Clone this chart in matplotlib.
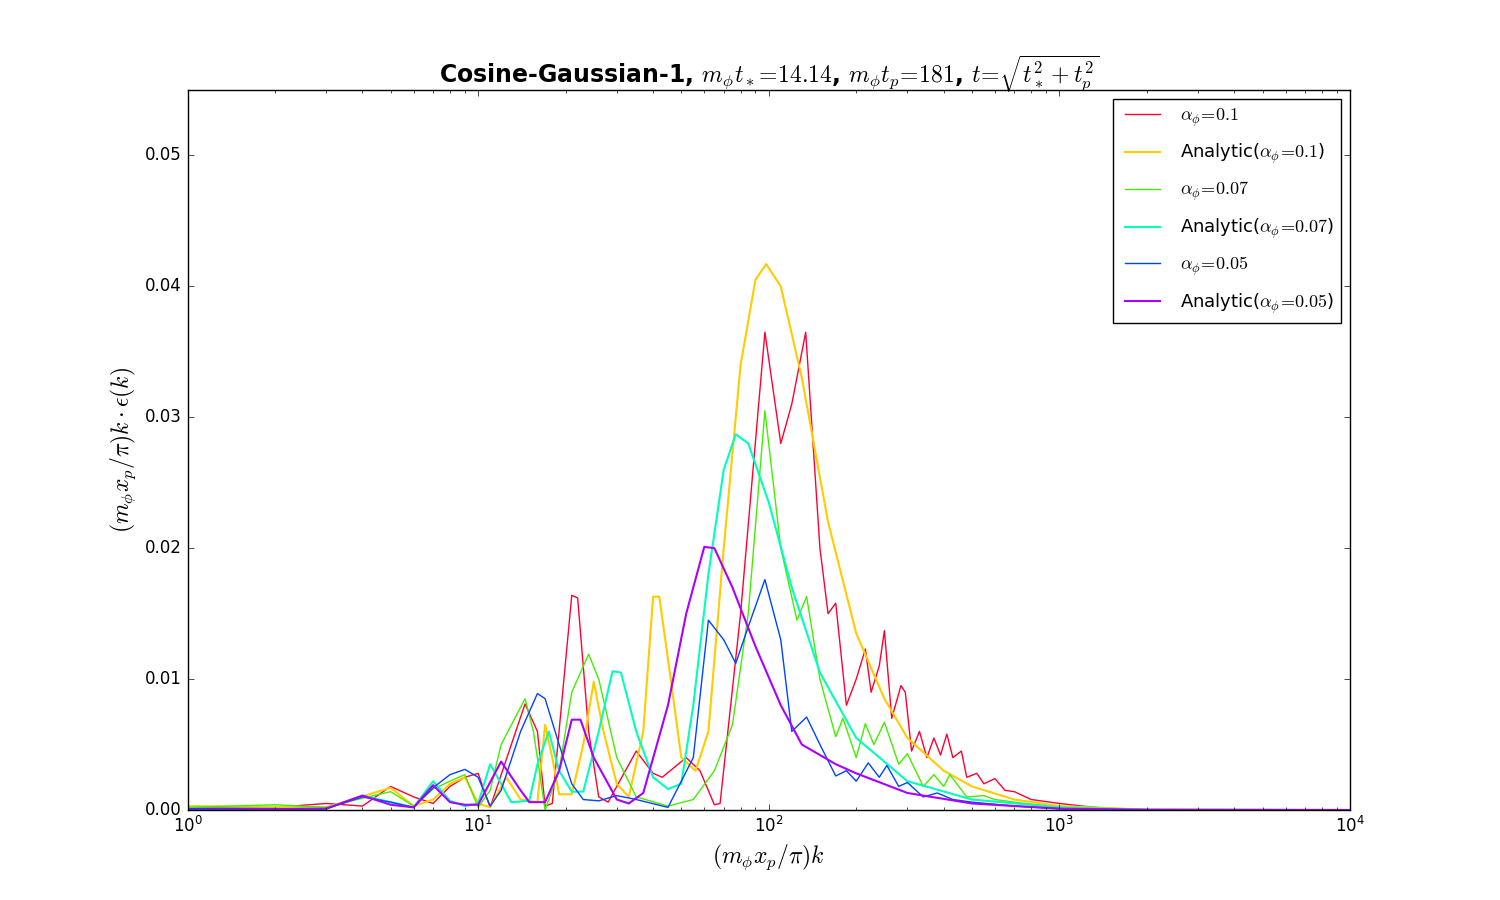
import numpy as np
import matplotlib
matplotlib.use('Agg')
import matplotlib.pyplot as plt

plt.style.use('classic')
plt.rcParams['mathtext.fontset'] = 'cm'
plt.rcParams['font.family'] = 'DejaVu Sans'

# (x, y) pairs
red_x = [1, 2, 3, 4, 5, 6, 7, 8, 9, 10, 11, 14.5, 16, 17, 18, 21, 22, 24, 26, 28, 35, 40, 43, 52, 58,
         65, 68, 80, 97, 110, 120, 134, 150, 160, 170, 185, 200, 215, 225, 240, 250, 265, 285, 295,
         310, 330, 350, 370, 390, 410, 430, 460, 480, 520, 550, 600, 650, 700, 800, 1000, 1200, 1500,
         2000, 10000]
red_y = [0.0002, 0.0002, 0.0005, 0.0003, 0.0018, 0.001, 0.0005, 0.0018, 0.0025, 0.0028, 0.0002,
         0.0081, 0.006, 0.0003, 0.0005, 0.0164, 0.0162, 0.006, 0.001, 0.0006, 0.0045, 0.0028, 0.0025,
         0.004, 0.003, 0.0004, 0.0005, 0.015, 0.0365, 0.028, 0.031, 0.0365, 0.02, 0.015, 0.0158,
         0.008, 0.01, 0.0123, 0.009, 0.011, 0.0137, 0.007, 0.0095, 0.009, 0.0045, 0.006, 0.004,
         0.0055, 0.0042, 0.0058, 0.004, 0.0045, 0.0025, 0.0028, 0.002, 0.0024, 0.0015, 0.0014,
         0.0008, 0.0005, 0.0003, 0.0001, 0.00003, 0.0]

yel_x = [1, 3, 5, 6, 7, 8, 9, 10, 11, 12.5, 14, 16, 17, 18, 19, 21, 23, 25, 27, 30, 33, 37, 40, 42,
         46, 50, 56, 62, 70, 80, 90, 98, 110, 130, 160, 200, 250, 300, 400, 500, 700, 1000, 2000, 10000]
yel_y = [0.0003, 0.0002, 0.0017, 0.0003, 0.0008, 0.002, 0.0025, 0.0005, 0.0002, 0.0025, 0.0008,
         0.0006, 0.0065, 0.004, 0.0012, 0.0012, 0.005, 0.0098, 0.006, 0.002, 0.001, 0.006, 0.0163,
         0.0163, 0.01, 0.004, 0.003, 0.006, 0.02, 0.034, 0.0405, 0.0417, 0.04, 0.033, 0.022, 0.0135,
         0.0085, 0.0055, 0.003, 0.0018, 0.0008, 0.0003, 0.00003, 0.0]

grn_x = [1, 2, 3, 4, 5, 6, 7, 8, 9, 10, 11, 12, 14.5, 15.5, 17, 19, 21, 24, 26, 30, 35, 45, 55, 65,
         75, 85, 97, 110, 125, 135, 150, 170, 180, 200, 215, 230, 250, 280, 300, 340, 370, 400, 420,
         480, 550, 600, 700, 1000, 2000, 10000]
grn_y = [0.0002, 0.0004, 0.0002, 0.0009, 0.0014, 0.0003, 0.0016, 0.0022, 0.0027, 0.0002, 0.0015,
         0.005, 0.0085, 0.006, 0.0, 0.003, 0.009, 0.0119, 0.01, 0.004, 0.001, 0.0003, 0.0008, 0.003,
         0.0065, 0.015, 0.0305, 0.02, 0.0145, 0.0163, 0.01, 0.0056, 0.007, 0.004, 0.0066, 0.005,
         0.0067, 0.0035, 0.0043, 0.0018, 0.0027, 0.0018, 0.0027, 0.001, 0.0011, 0.0008, 0.0006,
         0.0002, 0.00002, 0.0]

cyn_x = [1, 3, 4, 5, 6, 7, 8, 9, 10, 11, 12, 13, 15, 16, 17.5, 19, 21, 23, 26, 29, 31, 35, 40, 45,
         50, 55, 62, 70, 77, 85, 100, 120, 150, 200, 300, 500, 1000, 2000, 10000]
cyn_y = [0.0001, 0.0001, 0.0011, 0.0006, 0.0002, 0.0022, 0.0007, 0.0003, 0.0005, 0.0035, 0.002,
         0.0006, 0.0007, 0.0035, 0.006, 0.003, 0.0014, 0.0014, 0.006, 0.0106, 0.0105, 0.006, 0.0025,
         0.0016, 0.002, 0.008, 0.018, 0.026, 0.0287, 0.028, 0.0235, 0.017, 0.0105, 0.0055, 0.0022,
         0.0008, 0.0002, 0.00002, 0.0]

blu_x = [1, 3, 4, 5, 6, 7, 8, 9, 10, 11, 12, 14, 16, 17, 19, 21, 23, 26, 30, 35, 45, 55, 62, 70, 77,
         85, 97, 110, 120, 135, 150, 170, 185, 200, 220, 240, 255, 280, 300, 340, 380, 430, 500, 700,
         1000, 2000, 10000]
blu_y = [0.0001, 0.0001, 0.001, 0.0006, 0.0002, 0.0017, 0.0027, 0.0031, 0.0025, 0.0003, 0.0015,
         0.006, 0.0089, 0.0085, 0.005, 0.002, 0.0008, 0.0007, 0.0011, 0.0008, 0.0002, 0.004, 0.0145,
         0.013, 0.0112, 0.014, 0.0176, 0.013, 0.006, 0.0071, 0.005, 0.0026, 0.003, 0.0022, 0.0036,
         0.0025, 0.0034, 0.0018, 0.0021, 0.001, 0.0013, 0.0008, 0.0006, 0.0003, 0.0001, 0.0, 0.0]

pur_x = [1, 3, 4, 5, 6, 7, 8, 9, 10, 12, 14, 15, 17, 19, 21, 22.5, 25, 30, 33, 37, 45, 52, 60, 65,
         75, 90, 110, 130, 170, 200, 300, 500, 1000, 2000, 10000]
pur_y = [0.0, 0.0001, 0.0011, 0.0004, 0.0002, 0.0019, 0.0006, 0.0004, 0.0004, 0.0037, 0.0015,
         0.0006, 0.0006, 0.003, 0.0069, 0.0069, 0.004, 0.0008, 0.0005, 0.0013, 0.008, 0.015, 0.0201,
         0.02, 0.017, 0.0125, 0.008, 0.005, 0.0035, 0.0028, 0.0013, 0.0005, 0.0001, 0.00002, 0.0]

series = [
    (red_x, red_y, '#ff0033', 1.0, r'$\alpha_\phi\!=\!0.1$'),
    (yel_x, yel_y, '#ffcc00', 1.5, r'Analytic($\alpha_\phi\!=\!0.1$)'),
    (grn_x, grn_y, '#44ee00', 1.0, r'$\alpha_\phi\!=\!0.07$'),
    (cyn_x, cyn_y, '#00ffbb', 1.5, r'Analytic($\alpha_\phi\!=\!0.07$)'),
    (blu_x, blu_y, '#0044ff', 1.0, r'$\alpha_\phi\!=\!0.05$'),
    (pur_x, pur_y, '#aa00ff', 1.5, r'Analytic($\alpha_\phi\!=\!0.05$)'),
]

fig = plt.figure(figsize=(15, 9), dpi=100, facecolor='white')
ax = fig.add_axes([0.125, 0.1, 0.775, 0.8])
for x, y, c, lw, lab in series:
    ax.plot(x, y, color=c, lw=lw, label=lab)

ax.set_xscale('log')
ax.set_xlim(1, 1e4)
ax.set_ylim(0, 0.055)
ax.set_yticks([0, 0.01, 0.02, 0.03, 0.04, 0.05])
ax.set_xlabel(r'$(m_\phi x_p/\pi)k$', fontsize=17)
ax.set_ylabel(r'$(m_\phi x_p/\pi)k\cdot\epsilon(k)$', fontsize=17)
ax.set_title(r'Cosine-Gaussian-1, $m_\phi t_*\!=\!14.14$, $m_\phi t_p\!=\!181$, $t\!=\!\sqrt{t_*^2+t_p^2}$',
             fontsize=17, fontweight='bold')
ax.legend(loc='upper right', fontsize=13, handlelength=2.5, labelspacing=0.75)
fig.savefig('out.png', dpi=100, facecolor='white')
